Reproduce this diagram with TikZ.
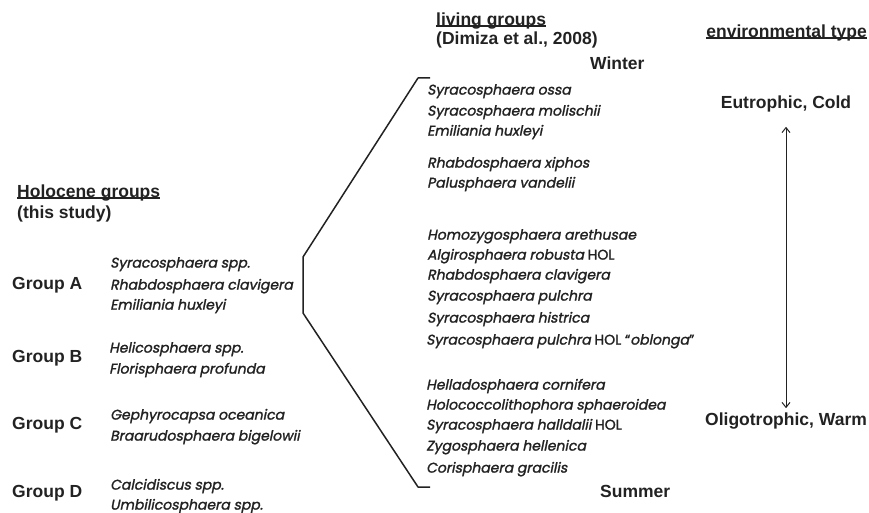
\documentclass[tikz,border=0pt]{standalone}
\usepackage{fontspec}
\usetikzlibrary{arrows.meta}
\setmainfont{Liberation Sans}
\newfontfamily\spfont[AutoFakeSlant=0.2, FakeBold=1.6]{Poppins}
\definecolor{ink}{HTML}{222222}
\tikzset{
  hd/.style={font=\bfseries\fontsize{17.5}{20}\selectfont, text=ink, inner sep=0pt, text height=0.72em, text depth=0.2em},
  sp/.style={font=\spfont\itshape\fontsize{14}{16}\selectfont, text=ink, inner sep=0pt, anchor=west, text height=0.72em, text depth=0.2em},
  brk/.style={draw=ink, line width=1.5pt, line join=round},
  uline/.style={draw=ink, line width=1.1pt},
  dbl/.style={draw=ink, line width=1pt, {Straight Barb[length=5pt,width=8pt]}-{Straight Barb[length=5pt,width=8pt]}},
}
\begin{document}
\begin{tikzpicture}[x=1pt,y=-1pt]
\useasboundingbox (0,0) rectangle (869,513);
% headings
\node[hd, anchor=west] (liv) at (436,23) {living groups};
\node[hd, anchor=west] (dim) at (436,42) {(Dimiza et al., 2008)};
\node[hd, anchor=east] (env) at (867,35) {environmental type};
\node[hd, anchor=west] (hol) at (17,195) {Holocene groups};
\node[hd, anchor=west] (ths) at (17,216) {(this study)};
\draw[uline] ([yshift=1.8pt]liv.south west) -- ([yshift=1.8pt]liv.south east);
\draw[uline] ([yshift=1.8pt]env.south west) -- ([yshift=1.8pt]env.south east);
\draw[uline] ([yshift=1.8pt]hol.south west) -- ([yshift=1.8pt]hol.south east);
\node[hd, anchor=west] (win) at (590,67) {Winter};
\node[hd, anchor=west] (sum) at (600,495) {Summer};
\node[hd] (eu) at (786,106) {Eutrophic, Cold};
\node[hd] (ol) at (786,423) {Oligotrophic, Warm};
\draw[dbl, shorten <=16pt, shorten >=10pt] (eu.south) -- (ol.north);
% groups
\node[hd, anchor=west] (ga) at (12,287) {Group A};
\node[hd, anchor=west] (gb) at (12,360) {Group B};
\node[hd, anchor=west] (gc) at (12,427) {Group C};
\node[hd, anchor=west] (gd) at (12,495) {Group D};
\node[sp] (a1) at (110,265) {Syracosphaera spp.};
\node[sp] (a2) at (110,287) {Rhabdosphaera clavigera};
\node[sp] (a3) at (110,307) {Emiliania huxleyi};
\node[sp] (b1) at (109,350) {Helicosphaera spp.};
\node[sp] (b2) at (109,371) {Florisphaera profunda};
\node[sp] (c1) at (110,417) {Gephyrocapsa oceanica};
\node[sp] (c2) at (110,438) {Braarudosphaera bigelowii};
\node[sp] (d1) at (110,487) {Calcidiscus spp.};
\node[sp] (d2) at (110,507) {Umbilicosphaera spp.};
% living species
\node[sp] (l1) at (427,92) {Syracosphaera ossa};
\node[sp] (l2) at (427,113) {Syracosphaera molischii};
\node[sp] (l3) at (427,133) {Emiliania huxleyi};
\node[sp] (l4) at (427,165) {Rhabdosphaera xiphos};
\node[sp] (l5) at (427,185) {Palusphaera vandelii};
\node[sp] (l6) at (427,237) {Homozygosphaera arethusae};
\node[sp] (l7) at (427,257) {Algirosphaera robusta \upshape HOL};
\node[sp] (l8) at (427,277) {Rhabdosphaera clavigera};
\node[sp] (l9) at (427,298) {Syracosphaera pulchra};
\node[sp] (l10) at (427,320) {Syracosphaera histrica};
\node[sp] (l11) at (426,342) {Syracosphaera pulchra {\upshape HOL “}oblonga{\upshape ”}};
\node[sp] (l12) at (426,387) {Helladosphaera cornifera};
\node[sp] (l13) at (426,407) {Holococcolithophora sphaeroidea};
\node[sp] (l14) at (426,427) {Syracosphaera halldalii \upshape HOL};
\node[sp] (l15) at (426,448) {Zygosphaera hellenica};
\node[sp] (l16) at (426,470) {Corisphaera gracilis};
% bracket
\coordinate (bt) at (430,78);
\coordinate (bb) at (430,487);
\draw[brk] (bt) -- (418,78) -- (303,257) -- (303,313) -- (418,487) -- (bb);
\end{tikzpicture}
\end{document}
